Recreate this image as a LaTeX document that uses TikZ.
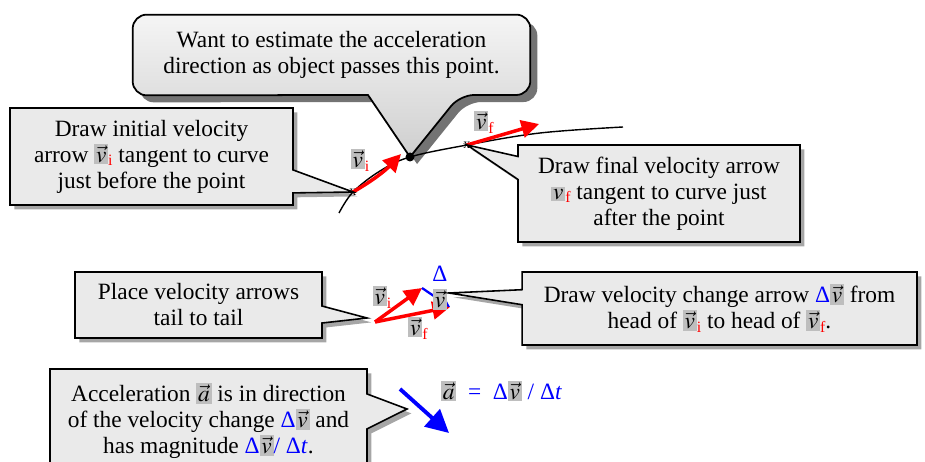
\documentclass[tikz,border=0pt]{standalone}
\usepackage{mathptmx}
\usepackage{fontspec}
\setmainfont{Liberation Serif}
\usetikzlibrary{arrows.meta, shapes.callouts, shadows, backgrounds, calc}
\definecolor{cVel}{HTML}{FF0000}
\definecolor{cDelta}{HTML}{0000FF}
\definecolor{cNote}{HTML}{EAEAEA}
\definecolor{cMark}{HTML}{BEBEBE}
\newcommand{\vecbox}[1]{{\setlength{\fboxsep}{1pt}\colorbox{cMark}{\color{black}$\vec{#1}$}}}
\newcommand{\velsub}[1]{\textcolor{cVel}{\raisebox{-0.35ex}{\small #1}}}
\newcommand{\velI}{\vecbox{v}\velsub{i}}
\newcommand{\velF}{\vecbox{v}\velsub{f}}
\newcommand{\dvel}{\textcolor{cDelta}{Δ}\vecbox{v}}
\tikzset{
  font=\fontsize{13.3}{14.8}\selectfont,
  note/.style={rectangle callout, draw=black, line width=0.9pt, fill=cNote,
    align=center, inner sep=3pt,
    drop shadow={shadow xshift=2.5pt, shadow yshift=-2.5pt, fill=black, opacity=0.35}},
  balloon/.style={draw=black, line width=1pt, top color=gray!8, bottom color=gray!38,
    drop shadow={shadow xshift=4pt, shadow yshift=-4pt, fill=black, opacity=0.55}},
  curve/.style={draw=black, line width=0.8pt},
  xmark/.style={font=\footnotesize, inner sep=0pt},
  ptdot/.style={circle, fill=black, minimum size=0.18cm, inner sep=0pt},
  velarrow/.style={draw=cVel, line width=2pt, -{Triangle[length=10pt, width=10pt]}},
  dvarrow/.style={draw=cDelta, line width=1.3pt, -{Triangle[length=6pt, width=6pt]}},
  accarrow/.style={draw=cDelta, line width=2.2pt, -{Triangle[length=13pt, width=13pt]}},
  veclabel/.style={inner sep=0pt},
}

\begin{document}
\begin{tikzpicture}[x=0.02cm, y=-0.02cm]
  \useasboundingbox (0,0) rectangle (925,462);

  % ------------------------------------------------------------
  % Curve, the point, tangent velocity arrows
  % ------------------------------------------------------------
  \node[ptdot] (pt) at (410,157) {};
  \node[xmark] (xi) at (353,192) {x};
  \node[xmark] (xf) at (467,145) {x};
  \coordinate (vitip) at (401,154);
  \coordinate (vftip) at (539,124);

  \draw[curve] plot[smooth, tension=0.6] coordinates
    {(339,213) (353,192) (380,171) (410,157) (467,145) (540,133) (623,127)};

  \draw[velarrow] (xi.center) to[bend right=8] (vitip);
  \draw[velarrow] (xf.center) -- (vftip);
  \node[veclabel] (vilab) at (360,160) {\velI};
  \node[veclabel] (vflab) at (484,122) {\velF};

  % ------------------------------------------------------------
  % Tail to tail, velocity change
  % ------------------------------------------------------------
  \coordinate (tail) at (375,322);
  \coordinate (vihead) at (422,288);
  \coordinate (vfhead) at (450,307);
  \draw[velarrow] (tail) -- (vihead);
  \draw[velarrow] (tail) -- (vfhead);
  \draw[dvarrow] (vihead) -- (vfhead);
  \node[veclabel] (vilab2) at (382,297) {\velI};
  \node[veclabel] (vflab2) at (418,328) {\velF};
  \node[veclabel, align=center] (dvlab) at (440,288) {\textcolor{cDelta}{Δ}\\\vecbox{v}};

  % ------------------------------------------------------------
  % Acceleration
  % ------------------------------------------------------------
  \coordinate (accstart) at (400,389);
  \coordinate (accend) at (449,433);
  \draw[accarrow] (accstart) -- (accend);
  \node[anchor=west, text=cDelta] (accform) at (435,391)
    {\vecbox{a}\enspace=\enspace Δ\vecbox{v} / Δ\textit{t}};

  % ------------------------------------------------------------
  % Notes
  % ------------------------------------------------------------
  \node[align=center, minimum width=7.94cm, minimum height=1.6cm] (want) at (331.5,55)
    {Want to estimate the acceleration\\ direction as object passes this point.};
  \begin{scope}[on background layer]
    \draw[balloon, rounded corners=8pt] (want.west) |- (want.north east) |- (460,95)
      [sharp corners] -- (pt.center) -- (368,95) [rounded corners=8pt] -- (want.south west) -- cycle;
  \end{scope}

  \coordinate (c3tip) at (367,318);
  \coordinate (c4tip) at (449,293);
  \coordinate (c5tip) at (407,409);

  \node[note, minimum width=5.66cm, minimum height=1.94cm, callout pointer width=0.46cm,
    callout absolute pointer={(xi.center)}] (initnote) at (151.5,156.5)
    {Draw initial velocity\\ arrow \velI{} tangent to curve\\ just before the point};

  \node[note, minimum width=5.64cm, minimum height=1.94cm, callout pointer width=0.46cm,
    callout absolute pointer={(xf.center)}] (finalnote) at (659,193.5)
    {Draw final velocity arrow\\
     {\setlength{\fboxsep}{1pt}\colorbox{cMark}{$v$}}\velsub{f} tangent to curve just\\
     after the point};

  \node[note, minimum width=4.94cm, minimum height=1.32cm, callout pointer width=0.34cm,
    callout absolute pointer={(c3tip)}] (tailnote) at (198.5,305)
    {Place velocity arrows\\ tail to tail};

  \node[note, minimum width=7.9cm, minimum height=1.46cm, callout pointer width=0.3cm,
    callout absolute pointer={(c4tip)}] (changenote) at (719.5,308.5)
    {Draw velocity change arrow \dvel{} from\\ head of \velI{} to head of \velF.};

  \node[note, minimum width=6.34cm, minimum height=2.08cm, callout pointer width=0.7cm,
    callout absolute pointer={(c5tip)}] (accnote) at (208.5,421)
    {Acceleration \vecbox{a} is in direction\\
     of the velocity change \dvel{} and\\
     has magnitude \dvel\textcolor{cDelta}{/ Δ\textit{t}}.};

\end{tikzpicture}
\end{document}
